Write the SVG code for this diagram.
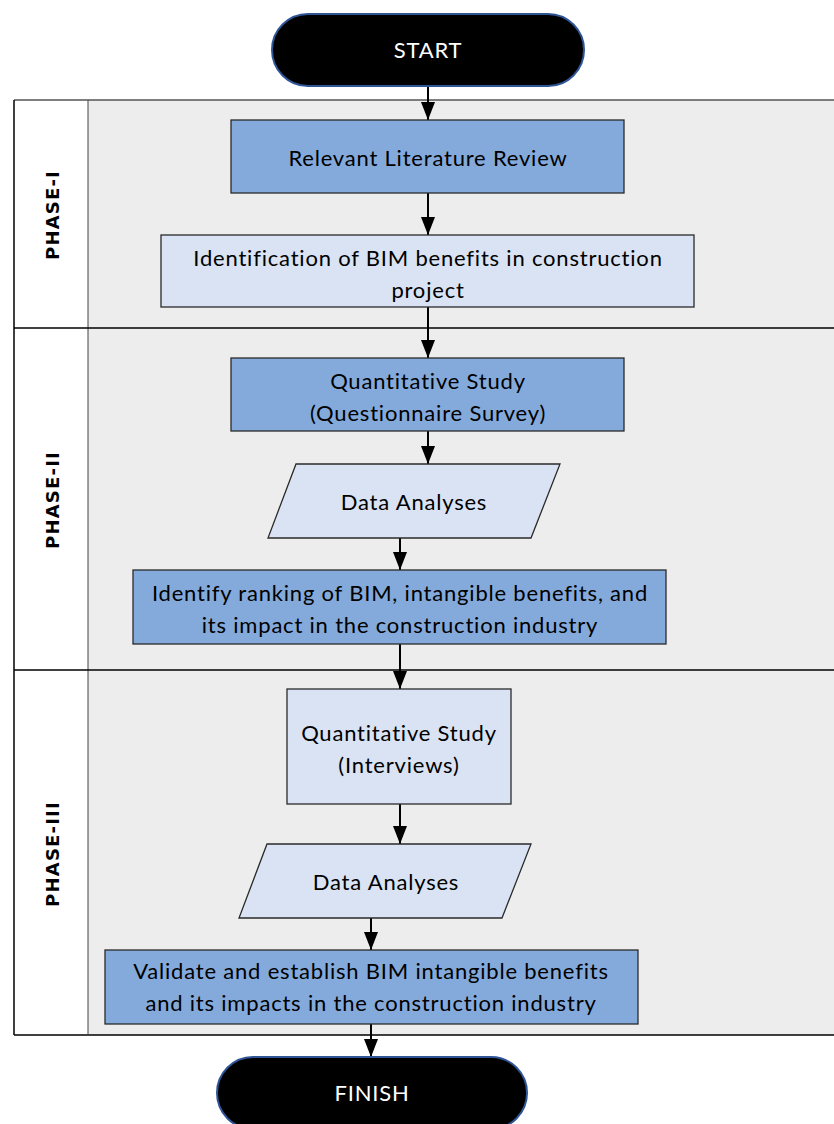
<svg xmlns="http://www.w3.org/2000/svg" width="834" height="1124" viewBox="0 0 834 1124">
<style>
.lane{fill:#EDEDED;stroke:none}
.hdr{fill:#FFFFFF;stroke:none}
.frame{fill:none;stroke:#000;stroke-width:1.5}
.dark{fill:#84AADC;stroke:#2a2a2a;stroke-width:1.3}
.light{fill:#D9E3F3;stroke:#2a2a2a;stroke-width:1.3}
.term{fill:#000;stroke:#2F5597;stroke-width:2}
.t{font-family:Lato,"Open Sans","Liberation Sans",sans-serif;font-size:22px;letter-spacing:0.8px;fill:#000;text-anchor:middle}
.tw{font-family:Lato,"Open Sans","Liberation Sans",sans-serif;font-size:22px;letter-spacing:0.8px;fill:#fff;text-anchor:middle}
.ph{font-family:"DejaVu Sans",sans-serif;font-weight:bold;font-size:18px;letter-spacing:1.2px;fill:#000;text-anchor:middle}
.c{stroke:#000;stroke-width:2;fill:none;marker-end:url(#ah)}
</style>
<defs>
<marker id="ah" markerUnits="userSpaceOnUse" viewBox="0 0 18 14" refX="18" refY="7" markerWidth="18" markerHeight="14" orient="auto">
<path d="M0,0 L18,7 L0,14 Z" fill="#000"/>
</marker>
</defs>
<g id="swimlanes">
<rect class="hdr" x="14" y="100" width="74" height="935"/>
<rect class="lane" x="88" y="100" width="746" height="935"/>
<line class="frame" x1="14" y1="100" x2="834" y2="100" style="stroke:#555"/>
<line class="frame" x1="14" y1="100" x2="14" y2="1035"/>
<line class="frame" x1="14" y1="1035" x2="834" y2="1035"/>
<line class="frame" x1="88" y1="100" x2="88" y2="1035" style="stroke:#444;stroke-width:1"/>
<line class="frame" x1="14" y1="328" x2="834" y2="328"/>
<line class="frame" x1="14" y1="670" x2="834" y2="670"/>
</g>
<g id="phase1-label"><text class="ph" transform="translate(59,215) rotate(-90)">PHASE-I</text></g>
<g id="phase2-label"><text class="ph" transform="translate(59,500) rotate(-90)">PHASE-II</text></g>
<g id="phase3-label"><text class="ph" transform="translate(59,854) rotate(-90)">PHASE-III</text></g>
<g id="connectors">
<line class="c" x1="428" y1="86" x2="428" y2="120"/>
<line class="c" x1="428" y1="193" x2="428" y2="235"/>
<line class="c" x1="428" y1="307" x2="428" y2="358"/>
<line class="c" x1="428" y1="431" x2="428" y2="464"/>
<line class="c" x1="400" y1="538" x2="400" y2="570"/>
<line class="c" x1="400" y1="644" x2="400" y2="689"/>
<line class="c" x1="400" y1="804" x2="400" y2="844"/>
<line class="c" x1="371" y1="918" x2="371" y2="950"/>
<line class="c" x1="371" y1="1024" x2="371" y2="1057"/>
</g>
<g id="start">
<rect class="term" x="272" y="14" width="312" height="72" rx="36" ry="36"/>
<text class="tw" x="428" y="58">START</text>
</g>
<g id="literature-review">
<rect class="dark" x="231" y="120" width="393" height="73"/>
<text class="t" x="428" y="166">Relevant Literature Review</text>
</g>
<g id="identification">
<rect class="light" x="161" y="235" width="533" height="72"/>
<text class="t" x="428" y="266">Identification of BIM benefits in construction</text>
<text class="t" x="428" y="298">project</text>
</g>
<g id="quant-survey">
<rect class="dark" x="231" y="358" width="393" height="73"/>
<text class="t" x="428" y="389">Quantitative Study</text>
<text class="t" x="428" y="421">(Questionnaire Survey)</text>
</g>
<g id="data-analyses-1">
<polygon class="light" points="296,464 560,464 531,538 268,538"/>
<text class="t" x="414" y="510">Data Analyses</text>
</g>
<g id="identify-ranking">
<rect class="dark" x="133" y="570" width="533" height="74"/>
<text class="t" x="400" y="601">Identify ranking of BIM, intangible benefits, and</text>
<text class="t" x="400" y="633">its impact in the construction industry</text>
</g>
<g id="quant-interviews">
<rect class="light" x="287" y="689" width="224" height="115"/>
<text class="t" x="399" y="741">Quantitative Study</text>
<text class="t" x="399" y="773">(Interviews)</text>
</g>
<g id="data-analyses-2">
<polygon class="light" points="267,844 531,844 502,918 239,918"/>
<text class="t" x="386" y="890">Data Analyses</text>
</g>
<g id="validate">
<rect class="dark" x="105" y="950" width="533" height="74"/>
<text class="t" x="371" y="979">Validate and establish BIM intangible benefits</text>
<text class="t" x="371" y="1011">and its impacts in the construction industry</text>
</g>
<g id="finish">
<rect class="term" x="217" y="1057" width="310" height="72" rx="36" ry="36"/>
<text class="tw" x="372" y="1101">FINISH</text>
</g>
</svg>
